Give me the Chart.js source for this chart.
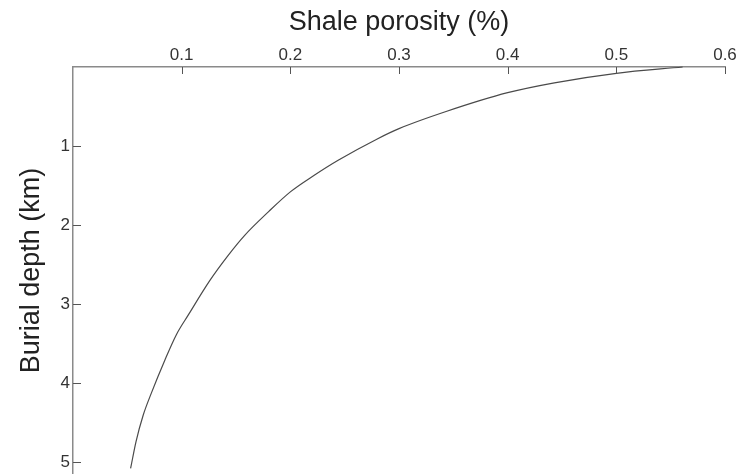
<!DOCTYPE html>
<html>
<head>
<meta charset="utf-8">
<script src="https://cdn.jsdelivr.net/npm/chart.js@4.4.1/dist/chart.umd.min.js"></script>
<style>
  html, body { margin: 0; padding: 0; background: #fff; }
  #wrap { width: 741px; height: 474px; }
</style>
</head>
<body>
<div id="wrap"><canvas id="chart"></canvas></div>
<script>
// curve: burial depth (km) vs shale porosity
const depth = [0, 0.08, 0.2, 0.325, 0.56, 0.78, 0.91, 1.18, 1.37, 1.58, 1.83,
    2.13, 2.38, 2.70, 3.14, 3.39, 3.71, 4.13, 4.41, 4.74, 5.08];
const porosity = [0.561, 0.500, 0.443, 0.400, 0.344, 0.300, 0.280, 0.244, 0.222, 0.200, 0.180,
    0.158, 0.143, 0.126, 0.106, 0.095, 0.0845, 0.072, 0.0645, 0.058, 0.053];

const xTicks = [0.1, 0.2, 0.3, 0.4, 0.5, 0.6];
const yTicks = [1, 2, 3, 4, 5];

const FONT = "'Liberation Sans', Arial, sans-serif";

// ticks point into the plot, so draw them by hand from the scales
const innerTicks = {
    id: "innerTicks",
    afterDraw(chart) {
        const ctx = chart.ctx;
        const area = chart.chartArea;
        const xs = chart.scales.x;
        const ys = chart.scales.y;
        ctx.save();
        ctx.strokeStyle = "#555";
        ctx.lineWidth = 1;
        ctx.beginPath();
        xTicks.forEach((v) => {
            const px = Math.round(xs.getPixelForValue(v)) + 0.5;
            ctx.moveTo(px, area.top);
            ctx.lineTo(px, area.top + 7);
        });
        yTicks.forEach((v) => {
            const py = Math.round(ys.getPixelForValue(v)) + 0.5;
            ctx.moveTo(area.left, py);
            ctx.lineTo(area.left + 8, py);
        });
        ctx.stroke();
        ctx.restore();
    },
};

const points = depth.map((d, i) => ({ x: porosity[i], y: d }));

new Chart(document.getElementById("chart"), {
    type: "scatter",
    data: {
        datasets: [
            {
                data: points,
                showLine: true,
                borderColor: "#4a4a4a",
                borderWidth: 1.2,
                pointRadius: 0,
                cubicInterpolationMode: "monotone",
                clip: false,
            },
        ],
    },
    options: {
        animation: false,
        responsive: true,
        maintainAspectRatio: false,
        layout: { padding: { left: 0, right: 16, top: 0, bottom: 0 } },
        plugins: {
            legend: { display: false },
            tooltip: { enabled: false },
        },
        scales: {
            x: {
                type: "linear",
                position: "top",
                min: 0,
                max: 0.6,
                afterBuildTicks: (s) => { s.ticks = xTicks.map((v) => ({ value: v })); },
                afterFit: (s) => { s.height = 67; s.paddingLeft = 0; },
                grid: { display: false, drawTicks: false },
                border: { display: true, color: "#8a8a8a", width: 1.5 },
                ticks: {
                    padding: 1,
                    color: "#333",
                    font: { family: FONT, size: 17 },
                    callback: (v) => v.toFixed(1),
                },
                title: {
                    display: true,
                    text: "Shale porosity (%)",
                    color: "#222",
                    font: { family: FONT, size: 27 },
                    padding: { top: 6, bottom: 0 },
                },
            },
            y: {
                type: "linear",
                position: "left",
                reverse: true,
                min: 0,
                max: 5.15,
                afterBuildTicks: (s) => { s.ticks = yTicks.map((v) => ({ value: v })); },
                afterFit: (s) => {
                    s.width = 73;
                    s.paddingTop = 0;
                    s.paddingBottom = 0;
                },
                grid: { display: false, drawTicks: false },
                border: { display: true, color: "#8a8a8a", width: 1.5 },
                ticks: {
                    padding: 3,
                    color: "#333",
                    font: { family: FONT, size: 17 },
                },
                title: {
                    display: true,
                    text: "Burial depth (km)",
                    color: "#222",
                    font: { family: FONT, size: 27 },
                    padding: { top: 15, bottom: 0 },
                },
            },
        },
    },
    plugins: [innerTicks],
});
</script>
</body>
</html>
